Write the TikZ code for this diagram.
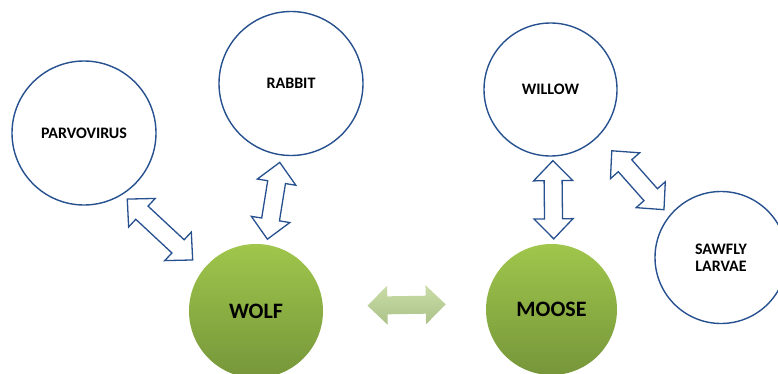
\documentclass[tikz,border=0pt]{standalone}
\usepackage{fontspec}
\setmainfont{Carlito}
\usepackage{tikz}
\usetikzlibrary{calc}
\definecolor{customBlue}{HTML}{27508F}
\definecolor{customGreenTop}{HTML}{A0C64C}
\definecolor{customGreenBottom}{HTML}{76963A}
\definecolor{customSageTop}{HTML}{CADCA8}
\definecolor{customSageBottom}{HTML}{ABC288}

\begin{document}
\begin{tikzpicture} [
    x=1pt, y=1pt,
    speciesNode/.style={circle,draw=customBlue,fill=white,line width=1.4pt,inner sep=0pt,align=center,
        font=\fontsize{16}{17}\selectfont\bfseries},
    keyNode/.style={circle,top color=customGreenTop,bottom color=customGreenBottom,inner sep=0pt,
        font=\fontsize{22}{24}\selectfont\bfseries},
    arrowShape/.style 2 args={to path={
        let \p1=($(\tikztostart)!#1!(\tikztotarget)$), \p2=($(\tikztotarget)!#2!(\tikztostart)$),
            \n1={atan2(\y2-\y1,\x2-\x1)}, \n2={veclen(\x2-\x1,\y2-\y1)-40} in
        (\p1) -- ++(\n1+44.27:27.93pt) -- ++(\n1-90:10.5pt) -- ++(\n1:\n2) -- ++(\n1+90:10.5pt)
        -- ++(\n1-44.27:27.93pt) -- ++(\n1-135.73:27.93pt) -- ++(\n1+90:10.5pt) -- ++(\n1+180:\n2)
        -- ++(\n1-90:10.5pt) -- cycle}},
    linkArrow/.style 2 args={draw=customBlue,fill=white,line width=1.3pt,line join=miter,arrowShape={#1}{#2}},
    mainArrow/.style 2 args={top color=customSageTop,bottom color=customSageBottom,arrowShape={#1}{#2}}
]
    \useasboundingbox (0,0) rectangle (778,373);
    \clip (0,0) rectangle (778,373);

    % outer species
    \node[speciesNode, minimum size=144pt] (parvo) at (84, 240) {PARVOVIRUS};
    \node[speciesNode, minimum size=144pt] (rabbit) at (291, 289.5) {RABBIT};
    \node[speciesNode, minimum size=133pt] (willow) at (550.5, 283.5) {WILLOW};
    \node[speciesNode, minimum size=132pt] (sawfly) at (721, 115.5) {SAWFLY\\LARVAE};

    % wolf and moose
    \node[keyNode, minimum size=134pt] (wolf) at (256, 62) {WOLF};
    \node[keyNode, minimum size=131pt] (moose) at (551.5, 63.5) {MOOSE};

    \path [linkArrow={6.5pt}{14pt}] (parvo.-58.5) to (wolf.142.5);
    \path [linkArrow={7pt}{5.5pt}] (rabbit.-98) to (wolf.81.5);
    \path [linkArrow={4pt}{5pt}] (willow.-88) to (moose.88.8);
    \path [linkArrow={19.5pt}{7.7pt}] (willow.-44.7) to (sawfly.141.6);
    \path [mainArrow={44.4pt}{40.3pt}] (wolf.4.6) to (moose.175.9);
\end{tikzpicture}
\end{document}
